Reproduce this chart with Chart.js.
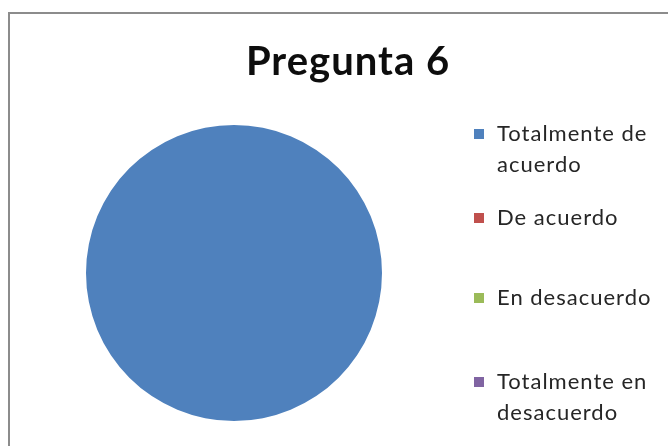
<!DOCTYPE html>
<html>
<head>
<meta charset="utf-8">
<script src="https://cdn.jsdelivr.net/npm/chart.js@4/dist/chart.umd.min.js"></script>
<style>
    body { margin: 0; background: #fff; }
    canvas { display: block; }
</style>
</head>
<body>
<canvas id="pregunta6" width="668" height="446"></canvas>
<script>
var titleText = "Pregunta 6";
var categories = ["Totalmente de acuerdo", "De acuerdo", "En desacuerdo", "Totalmente en desacuerdo"];
// legend text broken the way it wraps in the side box
var legendLines = [["Totalmente de", "acuerdo"], ["De acuerdo"], ["En desacuerdo"], ["Totalmente en", "desacuerdo"]];
var responses = [20, 0, 0, 0];
var sliceColors = ["#4f81bd", "#c0504d", "#9bbb59", "#8064a2"];

// frame + title, drawn before the pie
var framePlugin = {
    id: 'frame',
    beforeDraw: function (chart) {
        var ctx = chart.ctx;
        ctx.save();
        ctx.fillStyle = "#fff";
        ctx.fillRect(0, 0, chart.width, chart.height);
        ctx.strokeStyle = "#8c8c8c";
        ctx.lineWidth = 2;
        ctx.beginPath();
        ctx.moveTo(9, chart.height + 2);
        ctx.lineTo(9, 13);
        ctx.lineTo(chart.width + 2, 13);
        ctx.stroke();

        ctx.fillStyle = "#0d0d0d";
        ctx.font = "bold 40px Lato";
        ctx.letterSpacing = "1px";
        ctx.textAlign = "center";
        ctx.textBaseline = "alphabetic";
        ctx.fillText(titleText, 348, 75);
        ctx.restore();
    }
};

// side legend with wrapped labels
var sideLegend = {
    id: 'sideLegend',
    afterDraw: function (chart) {
        var ctx = chart.ctx;
        var ds = chart.data.datasets[0];
        var firstBaselines = [141, 225, 305, 389];
        ctx.save();
        ctx.font = "22px Lato";
        ctx.letterSpacing = "1px";
        ctx.textAlign = "left";
        ctx.textBaseline = "alphabetic";
        for (var i = 0; i < legendLines.length; i++) {
            var y = firstBaselines[i];
            ctx.fillStyle = ds.backgroundColor[i];
            ctx.fillRect(474, y - 12, 10, 10);
            ctx.fillStyle = "#262626";
            for (var j = 0; j < legendLines[i].length; j++) {
                ctx.fillText(legendLines[i][j], 497, y + j * 31);
            }
        }
        ctx.restore();
    }
};

var chart = new Chart(document.getElementById("pregunta6").getContext('2d'), {
    type: 'pie',
    data: {
        labels: categories,
        datasets: [{
            data: responses,
            backgroundColor: sliceColors,
            borderWidth: 0
        }]
    },
    options: {
        responsive: false,
        animation: false,
        layout: {
            padding: { left: 86, right: 286, top: 125, bottom: 25 }
        },
        plugins: {
            legend: { display: false },
            title: { display: false },
            tooltip: { enabled: false }
        }
    },
    plugins: [framePlugin, sideLegend]
});
</script>
</body>
</html>
